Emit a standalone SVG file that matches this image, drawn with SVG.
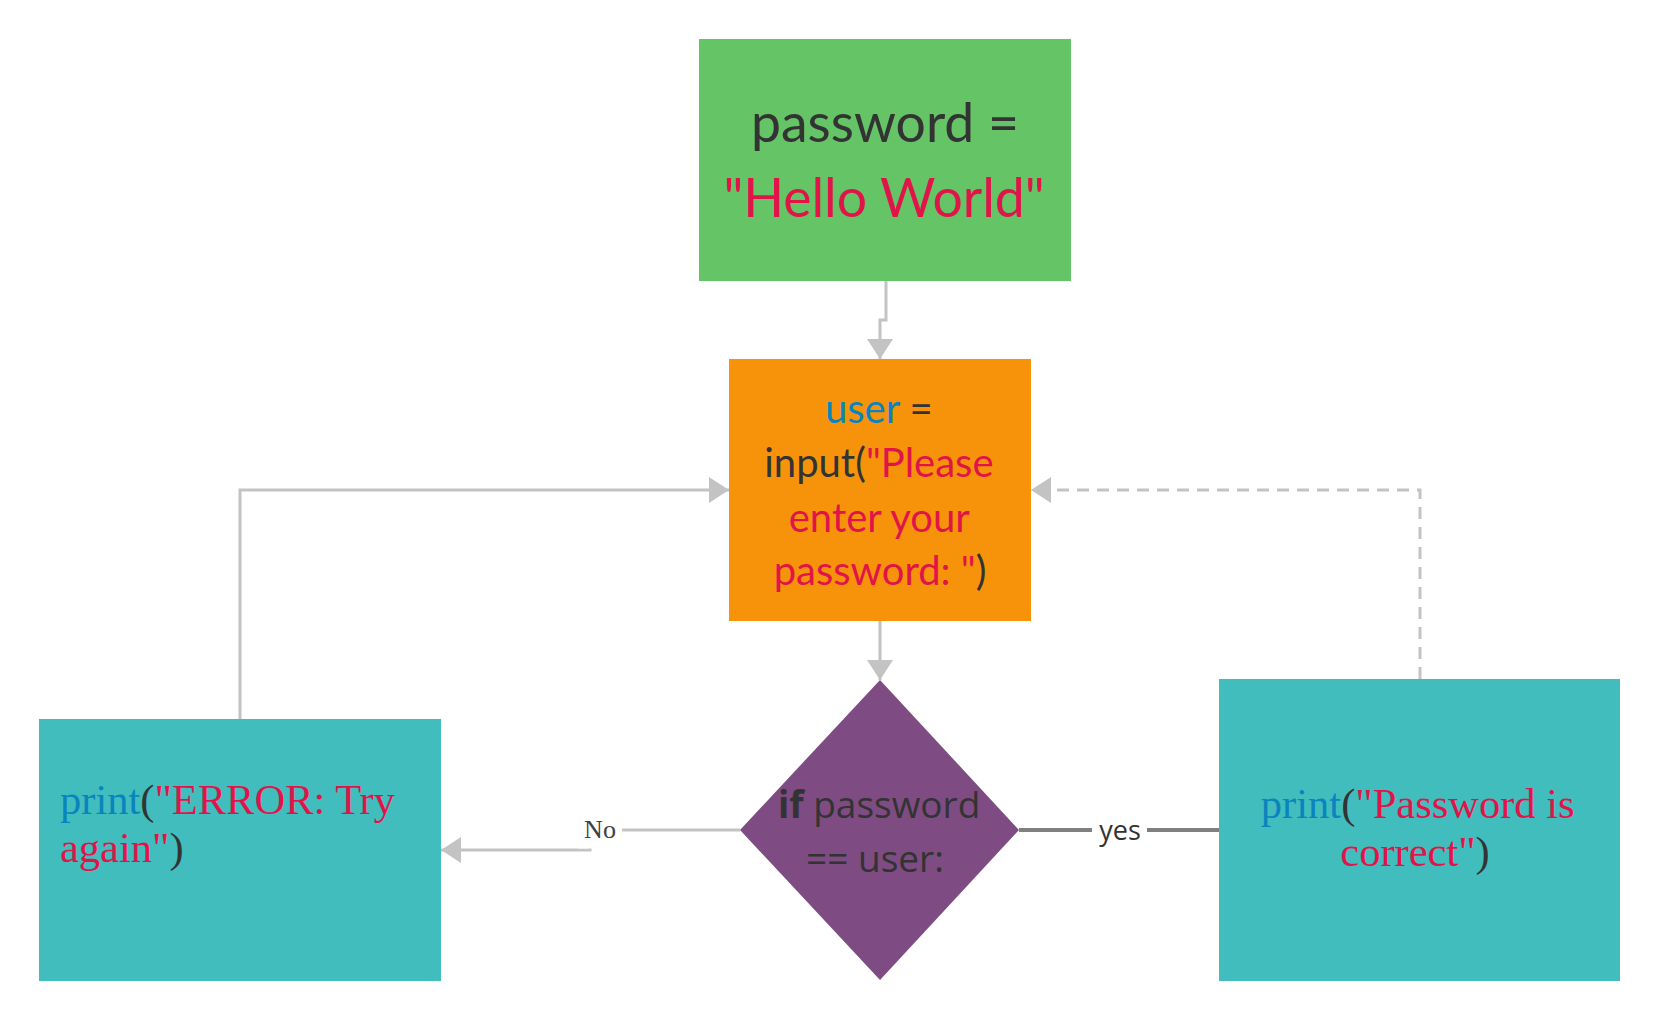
<svg xmlns="http://www.w3.org/2000/svg" width="1660" height="1021" viewBox="0 0 1660 1021">
<style>
.lato{font-family:Lato,"Open Sans",sans-serif}
.os{font-family:"Open Sans","Noto Sans",sans-serif}
.serif{font-family:"Liberation Serif","Times New Roman",serif}
.dk{fill:#333333}
.rd{fill:#e1144a}
.bl{fill:#0a84be}
.conn{fill:none;stroke:#c3c3c3;stroke-width:3}
</style>
<defs>
<marker id="arr" viewBox="0 0 20 26" refX="20" refY="13" markerWidth="20" markerHeight="26" markerUnits="userSpaceOnUse" orient="auto">
<path d="M0,0 L20,13 L0,26 Z" fill="#c3c3c3"/>
</marker>
</defs>
<rect width="1660" height="1021" fill="#ffffff"/>
<g id="connectors">
<path class="conn" d="M886,281 V320 H880 V359" marker-end="url(#arr)"/>
<path class="conn" d="M880,621 V680" marker-end="url(#arr)"/>
<path class="conn" d="M240,719 V490 H729" marker-end="url(#arr)"/>
<path class="conn" d="M1420,679 V490 H1031" stroke-dasharray="12 8" marker-end="url(#arr)"/>
<path class="conn" d="M740,830 H590 V850 H441" marker-end="url(#arr)"/>
<rect x="578" y="811" width="44" height="37.5" fill="#ffffff"/>
<text x="600" y="838" class="serif" font-size="26" fill="#404040" text-anchor="middle">No</text>
<path d="M1019,830 H1219" fill="none" stroke="#808080" stroke-width="4"/>
<rect x="1092" y="812" width="55" height="36" fill="#ffffff"/>
<text x="1120" y="840" class="os dk" font-size="27" text-anchor="middle">yes</text>
</g>
<g id="node-password">
<rect x="699" y="39" width="372" height="242" fill="#64c466"/>
<text class="lato" font-size="53.5" text-anchor="middle"><tspan x="885" y="142" class="dk">password =</tspan><tspan x="884" y="217" class="rd">"Hello World"</tspan></text>
</g>
<g id="node-input">
<rect x="729" y="359" width="302" height="262" fill="#f7930a"/>
<text class="lato" font-size="40" text-anchor="middle">
<tspan x="884" y="423"><tspan class="bl">user</tspan><tspan class="dk"> =</tspan></tspan>
<tspan x="884" y="477"><tspan class="dk">input(</tspan><tspan class="rd">"Please</tspan></tspan>
<tspan x="884" y="532" class="rd">enter your</tspan>
<tspan x="880" y="585"><tspan class="rd">password: "</tspan><tspan class="dk">)</tspan></tspan>
</text>
</g>
<g id="node-decision">
<polygon points="880,680 1019,830 880,980 740,830" fill="#7e4c82"/>
<text class="os dk" font-size="37" text-anchor="middle">
<tspan x="884" y="818"><tspan font-weight="bold">if</tspan> password</tspan>
<tspan x="875" y="872">== user:</tspan>
</text>
</g>
<g id="node-error">
<rect x="39" y="719" width="402" height="262" fill="#42bdbd"/>
<text class="serif" font-size="42.5">
<tspan x="60" y="814"><tspan class="bl">print</tspan><tspan class="dk">(</tspan><tspan class="rd">"ERROR: Try</tspan></tspan>
<tspan x="60" y="862"><tspan class="rd">again"</tspan><tspan class="dk">)</tspan></tspan>
</text>
</g>
<g id="node-correct">
<rect x="1219" y="679" width="401" height="302" fill="#42bdbd"/>
<text class="serif" font-size="42.5" text-anchor="middle">
<tspan x="1423" y="818"><tspan class="bl">print</tspan><tspan class="dk">(</tspan><tspan class="rd">"Password is</tspan></tspan>
<tspan x="1415" y="866"><tspan class="rd">correct"</tspan><tspan class="dk">)</tspan></tspan>
</text>
</g>
</svg>
